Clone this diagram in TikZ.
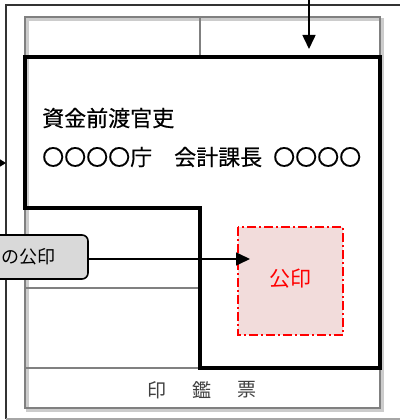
\documentclass[tikz,border=0pt]{standalone}
\usepackage{fontspec}
\newfontfamily\cjk{Noto Sans CJK JP}
\newfontfamily\cjkb[FakeBold=0.4]{Noto Sans CJK JP}
\usetikzlibrary{arrows.meta}
\definecolor{sealpink}{HTML}{F2DCDB}
\definecolor{labelgray}{HTML}{D9D9D9}
\tikzset{
  frameline/.style={draw=black!80, line width=1.5pt},
  sheetline/.style={draw=black!50, line width=1.6pt},
  shadowline/.style={draw=black!20, line width=3pt},
  thickline/.style={draw=black, line width=3.4pt, line join=miter},
  sealbox/.style={draw=red, fill=sealpink, line width=1.8pt,
     dash pattern=on 9pt off 3pt on 2pt off 3pt},
  labelbox/.style={draw=black, fill=labelgray, line width=1.6pt, rounded corners=6pt},
  arr/.style={draw=black, line width=1.6pt, -{Triangle[length=14pt,width=13pt]}},
  maintext/.style={font=\cjkb\fontsize{22}{23}\selectfont, anchor=west, inner sep=0pt},
  sheettext/.style={font=\cjk\fontsize{19}{20}\selectfont, text=black!75, inner sep=0pt},
}
\begin{document}
\begin{tikzpicture}[x=1pt,y=-1pt]
\useasboundingbox (0,0) rectangle (399,420);
% outer frame
\draw[frameline] (402,5) -- (6,5) -- (6,419);
\draw[draw=black!35, line width=1.5pt] (6,419) -- (402,419);
% sheet shadow and outline
\draw[shadowline] (27.5,20) rectangle (382.5,410.5);
\draw[sheetline] (25,17) rectangle (380,408);
\draw[sheetline] (200,17) -- (200,57);
\draw[sheetline] (25,288) -- (200,288);
\draw[sheetline] (25,368) -- (380,368);
% thick box
\draw[thickline] (25,57) -- (380,57) -- (380,368) -- (200,368) -- (200,208) -- (25,208) -- cycle;
% texts
\node[maintext] (t1) at (42,118) {資金前渡官吏};
\node[maintext] (t2) at (42,157) {〇〇〇〇庁　会計課長\hspace{0.5em}〇〇〇〇};
% seal
\path[sealbox] (238,227) rectangle (343,335);
\node[font=\cjk\fontsize{21}{22}\selectfont, text=red, inner sep=0pt] (sealtext) at (290.5,279) {公印};
\coordinate (sealin) at (250,259);
% sheet title
\node[sheettext] (s1) at (157,390) {印};
\node[sheettext] (s2) at (202,390) {鑑};
\node[sheettext] (s3) at (247,390) {票};
% label box
\draw[labelbox] (-30,235) rectangle (88,279);
\node[font=\cjk\fontsize{18}{19}\selectfont, anchor=east, inner sep=0pt] (lbl) at (56,257) {の公印};
\coordinate (lblout) at (88,259);
\draw[arr] (lblout) -- (sealin);
% top arrow
\coordinate (topstart) at (309,-2);
\coordinate (topend) at (309,49);
\draw[arr] (topstart) -- (topend);
% left small arrow
\coordinate (lstart) at (-10,163);
\coordinate (lend) at (6,163);
\draw[draw=black, line width=1.2pt, -{Triangle[length=6pt,width=7pt]}] (lstart) -- (lend);
\end{tikzpicture}
\end{document}
